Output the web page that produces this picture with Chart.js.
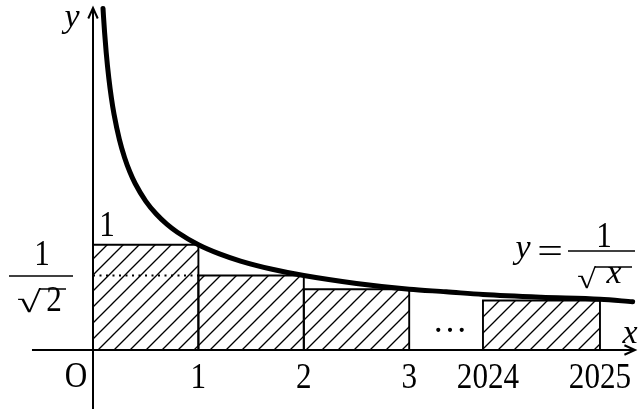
<!DOCTYPE html>
<html><head><meta charset="utf-8">
<script src="https://cdn.jsdelivr.net/npm/chart.js@4/dist/chart.umd.min.js"></script>
<style>html,body{margin:0;padding:0;background:#fff;overflow:hidden}</style>
</head><body>
<canvas id="c" width="638" height="409"></canvas>
<script>
// ---- data ----
const rectStarts  = [0, 1, 2, 3.70];
const rectEnds    = [1, 2, 3, 4.81];
const rectHeights = [1, 0.7071, 0.5774, 0.47];
const tickPositions = [1, 2, 3, 3.70, 4.81];
const tickLabels    = ['1', '2', '3', '2024', '2025'];
const dottedLevel = 0.7071;
const curveX = [0.095, 0.1, 0.11, 0.125, 0.15, 0.175, 0.2, 0.25, 0.3, 0.35, 0.4, 0.5, 0.6, 0.7, 0.8, 1, 1.2, 1.4, 1.7, 2, 2.5, 3, 3.35, 3.70, 4.25, 4.81, 5.12];
const curveY = [3.244, 3.162, 3.015, 2.828, 2.582, 2.390, 2.236, 2.000, 1.826, 1.690, 1.581, 1.414, 1.291, 1.195, 1.118, 1.000, 0.913, 0.845, 0.767, 0.707, 0.632, 0.577, 0.553, 0.527, 0.501, 0.482, 0.458];
const xAxisRange = [-0.579, 5.142];
const yAxisRange = [-0.56, 3.248];

// ---- build ----
const canvas = document.getElementById('c');
const mainCtx = canvas.getContext('2d');
function hatchPattern() {
  const t = document.createElement('canvas');
  t.width = 16; t.height = 16;
  const g = t.getContext('2d');
  g.strokeStyle = '#000'; g.lineWidth = 1.35;
  g.beginPath();
  g.moveTo(0, 16); g.lineTo(16, 0);
  g.moveTo(-4, 4); g.lineTo(4, -4);
  g.moveTo(12, 20); g.lineTo(20, 12);
  g.stroke();
  return mainCtx.createPattern(t, 'repeat');
}
const hatch = hatchPattern();

const base = {showLine: true, pointRadius: 0, borderColor: '#000', tension: 0, fill: false};
const datasets = [];
datasets.push(Object.assign({}, base, {
  label: 'curve', order: 0, borderWidth: 5, borderCapStyle: 'round', cubicInterpolationMode: 'monotone',
  data: curveX.map((v, i) => ({x: v, y: curveY[i]}))
}));
// axes
datasets.push(Object.assign({}, base, {order: 1, borderWidth: 2,
  data: [{x: xAxisRange[0], y: 0}, {x: xAxisRange[1], y: 0}]}));
datasets.push(Object.assign({}, base, {order: 1, borderWidth: 2,
  data: [{x: 0, y: yAxisRange[0]}, {x: 0, y: yAxisRange[1]}]}));
// arrow heads
datasets.push(Object.assign({}, base, {order: 1, borderWidth: 2, borderJoinStyle: 'miter',
  data: [{x: xAxisRange[1] - 0.1, y: 0.045}, {x: xAxisRange[1], y: 0}, {x: xAxisRange[1] - 0.1, y: -0.045}]}));
datasets.push(Object.assign({}, base, {order: 1, borderWidth: 2, borderJoinStyle: 'miter',
  data: [{x: -0.045, y: yAxisRange[1] - 0.1}, {x: 0, y: yAxisRange[1]}, {x: 0.045, y: yAxisRange[1] - 0.1}]}));
// dotted line
datasets.push(Object.assign({}, base, {order: 2, borderWidth: 2, borderDash: [2, 4.5],
  data: [{x: 0, y: dottedLevel}, {x: rectEnds[0], y: dottedLevel}]}));
// rectangles
rectStarts.forEach((a, i) => {
  const b = rectEnds[i], h = rectHeights[i];
  datasets.push(Object.assign({}, base, {order: 3, borderWidth: 1.9, fill: 'origin', backgroundColor: hatch,
    data: [{x: a, y: 0}, {x: a, y: h}, {x: b, y: h}, {x: b, y: 0}]}));
});

function txt(ctx, s, cx, baseline, font, sx) {
  ctx.save();
  ctx.font = font;
  ctx.translate(cx, baseline);
  ctx.scale(sx || 1, 1);
  ctx.textAlign = 'center';
  ctx.textBaseline = 'alphabetic';
  ctx.fillStyle = '#000';
  ctx.fillText(s, 0, 0);
  ctx.restore();
}
// draw a glyph stretched to fit a pixel box
function fitText(ctx, s, x0, y0, x1, y1, font) {
  ctx.save();
  ctx.font = font;
  ctx.textAlign = 'left';
  ctx.textBaseline = 'alphabetic';
  const m = ctx.measureText(s);
  const gw = m.actualBoundingBoxLeft + m.actualBoundingBoxRight;
  const gh = m.actualBoundingBoxAscent + m.actualBoundingBoxDescent;
  const kx = (x1 - x0) / gw, ky = (y1 - y0) / gh;
  ctx.translate(x0, y0);
  ctx.scale(kx, ky);
  ctx.fillStyle = '#000';
  ctx.fillText(s, m.actualBoundingBoxLeft, m.actualBoundingBoxAscent);
  ctx.restore();
}
function hline(ctx, x1, x2, y, w) {
  ctx.save(); ctx.strokeStyle = '#000'; ctx.lineWidth = w || 1.5;
  ctx.beginPath(); ctx.moveTo(x1, y); ctx.lineTo(x2, y); ctx.stroke(); ctx.restore();
}

const SERIF = '"Liberation Serif", "Times New Roman", serif';
const labelPlugin = {
  id: 'labels',
  afterDatasetsDraw(chart) {
    const ctx = chart.ctx;
    const xs = chart.scales.x, ys = chart.scales.y;
    const f = '35px ' + SERIF, fi = 'italic 34px ' + SERIF;
    const sx = 0.89;
    const base0 = ys.getPixelForValue(0);
    const nudge = [0, 0, 0, 5, 0];
    tickLabels.forEach((l, i) => txt(ctx, l, xs.getPixelForValue(tickPositions[i]) + nudge[i], base0 + 38, f, sx));
    txt(ctx, 'O', xs.getPixelForValue(0) - 17, base0 + 37, f, sx);
    txt(ctx, '1', xs.getPixelForValue(0) + 14, ys.getPixelForValue(rectHeights[0]) - 9, f, sx);
    txt(ctx, '\u2026', 450, base0 - 18, f, 1);
    txt(ctx, 'x', 630, base0 - 7, fi, 1);
    txt(ctx, 'y', 72, 27, fi, 1);
    // left fraction 1/sqrt(2)
    txt(ctx, '1', 42, 265, f, sx);
    hline(ctx, 9, 73, 276, 1.6);
    fitText(ctx, '\u221A', 18, 288, 41, 313, '40px ' + SERIF);
    txt(ctx, '2', 54, 311, f, sx);
    hline(ctx, 39, 66, 289, 1.5);
    // right formula y = 1/sqrt(x)
    txt(ctx, 'y', 523, 258, fi, 1);
    txt(ctx, '=', 550, 263, f, 1.3);
    hline(ctx, 568, 635, 251, 1.6);
    txt(ctx, '1', 604, 247, f, sx);
    fitText(ctx, '\u221A', 578, 266, 596, 289, '40px ' + SERIF);
    txt(ctx, 'x', 614, 283, fi, 1);
    hline(ctx, 595, 632, 267, 1.5);
  }
};

new Chart(canvas, {
  type: 'scatter',
  data: {datasets},
  options: {
    responsive: false, animation: false, devicePixelRatio: 1,
    layout: {padding: 0},
    plugins: {legend: {display: false}, tooltip: {enabled: false}},
    scales: {
      x: {type: 'linear', min: -0.8824, max: 5.1708, display: false},
      y: {type: 'linear', min: -0.5603, max: 3.3238, display: false}
    }
  },
  plugins: [labelPlugin]
});
</script>
</body></html>
